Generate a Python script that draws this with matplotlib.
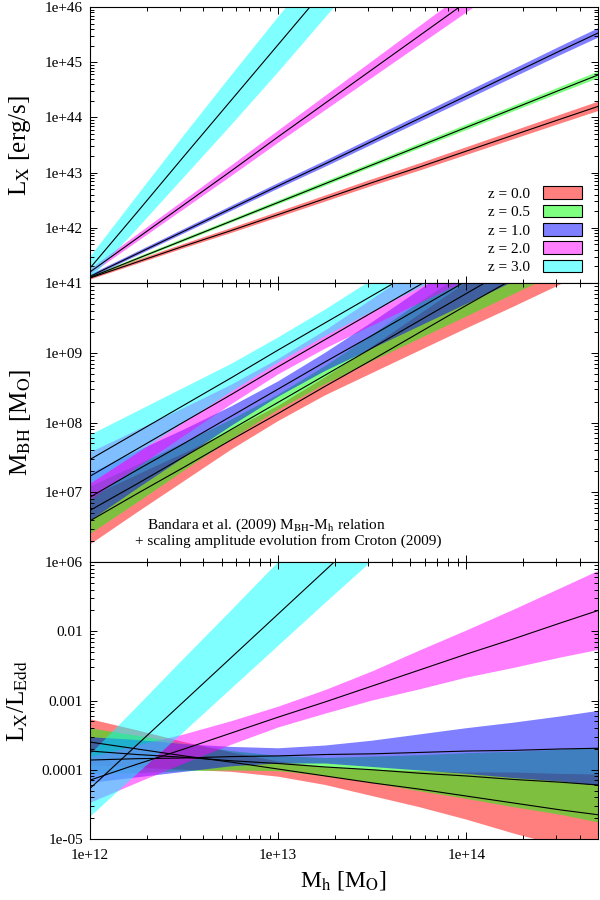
import matplotlib
matplotlib.use('Agg')
import numpy as np
import matplotlib.pyplot as plt
from matplotlib.patches import Patch
from matplotlib.ticker import LogLocator, FuncFormatter, NullFormatter

plt.rcParams['font.family'] = ['Liberation Serif', 'DejaVu Serif']
plt.rcParams['mathtext.fontset'] = 'stix'

# ---------------- data (log10 values) ----------------
log_mh = [12.0, 12.25, 12.5, 12.75, 13.0, 13.25, 13.5, 13.75, 14.0, 14.25, 14.5, 14.7]

z_labels = ['z = 0.0', 'z = 0.5', 'z = 1.0', 'z = 2.0', 'z = 3.0']
band_colors = ['#ff0000', '#00ff00', '#0000ff', '#ff00ff', '#00ffff']

# Panel 1: log Lx [erg/s]  (centre lines and half widths)
lx_red     = [41.09, 41.38, 41.67, 41.95, 42.24, 42.53, 42.82, 43.10, 43.39, 43.68, 43.97, 44.20]
lx_green   = [41.10, 41.44, 41.78, 42.12, 42.46, 42.80, 43.14, 43.48, 43.82, 44.16, 44.50, 44.77]
lx_blue    = [41.12, 41.53, 41.94, 42.35, 42.76, 43.16, 43.57, 43.98, 44.39, 44.80, 45.21, 45.53]
lx_magenta = [41.20, 41.81, 42.42, 43.03, 43.65, 44.26, 44.87, 45.48, 46.09, 46.70, 47.31, 47.80]
lx_cyan    = [41.27, 42.28, 43.30, 44.31, 45.32, 46.33, 47.35, 48.36, 49.37, 50.38, 51.40, 52.21]

lx_w_red     = [0.03, 0.035, 0.04, 0.045, 0.05, 0.055, 0.06, 0.065, 0.07, 0.075, 0.08, 0.085]
lx_w_green   = [0.02, 0.025, 0.03, 0.03, 0.035, 0.04, 0.04, 0.045, 0.05, 0.05, 0.055, 0.06]
lx_w_blue    = [0.03, 0.035, 0.04, 0.045, 0.05, 0.055, 0.06, 0.065, 0.07, 0.075, 0.08, 0.085]
lx_w_magenta = [0.05, 0.065, 0.08, 0.095, 0.11, 0.13, 0.15, 0.17, 0.19, 0.21, 0.23, 0.25]
lx_w_cyan    = [0.20, 0.30, 0.38, 0.45, 0.50, 0.52, 0.55, 0.58, 0.60, 0.62, 0.64, 0.66]

# Panel 2: log MBH [Msun]
mbh_red     = [6.59, 6.98, 7.36, 7.75, 8.13, 8.52, 8.90, 9.29, 9.68, 10.06, 10.45, 10.76]
mbh_green   = [6.74, 7.12, 7.51, 7.90, 8.29, 8.68, 9.07, 9.46, 9.85, 10.24, 10.63, 10.94]
mbh_blue    = [6.93, 7.32, 7.70, 8.09, 8.48, 8.87, 9.25, 9.64, 10.03, 10.42, 10.81, 11.12]
mbh_magenta = [7.23, 7.62, 8.01, 8.40, 8.80, 9.19, 9.58, 9.97, 10.36, 10.76, 11.15, 11.46]
mbh_cyan    = [7.47, 7.86, 8.25, 8.64, 9.04, 9.43, 9.82, 10.21, 10.61, 11.00, 11.39, 11.70]

mbh_w_cyan  = [0.35, 0.30, 0.25, 0.20, 0.18, 0.19, 0.23, 0.28, 0.34, 0.40, 0.46, 0.51]
mbh_w_other = [0.34, 0.27, 0.20, 0.14, 0.11, 0.13, 0.19, 0.26, 0.33, 0.40, 0.47, 0.53]

# Panel 3: log Lx/LEdd
edd_red     = [-3.60, -3.70, -3.80, -3.89, -3.99, -4.09, -4.19, -4.28, -4.38, -4.48, -4.58, -4.65]
edd_green   = [-3.73, -3.78, -3.82, -3.87, -3.91, -3.96, -4.00, -4.05, -4.09, -4.14, -4.18, -4.22]
edd_blue    = [-3.86, -3.84, -3.83, -3.81, -3.80, -3.78, -3.77, -3.75, -3.73, -3.72, -3.70, -3.69]
edd_magenta = [-4.15, -3.92, -3.70, -3.47, -3.24, -3.02, -2.79, -2.56, -2.33, -2.11, -1.88, -1.70]
edd_cyan    = [-4.27, -3.64, -3.01, -2.38, -1.75, -1.12, -0.49, 0.14, 0.77, 1.40, 2.03, 2.53]

edd_w_red     = [0.33, 0.27, 0.20, 0.14, 0.11, 0.13, 0.19, 0.26, 0.34, 0.44, 0.52, 0.58]
edd_w_other   = [0.33, 0.27, 0.20, 0.14, 0.11, 0.13, 0.19, 0.26, 0.33, 0.40, 0.47, 0.54]
edd_w_magenta = [0.33, 0.27, 0.21, 0.17, 0.15, 0.17, 0.21, 0.28, 0.34, 0.42, 0.50, 0.57]
edd_cyan_hi   = [-3.78, -3.09, -2.39, -1.70, -1.00, -0.31, 0.39, 1.08, 1.78, 2.48, 3.17, 3.73]
edd_cyan_lo   = [-4.68, -4.06, -3.45, -2.83, -2.21, -1.59, -0.98, -0.36, 0.26, 0.88, 1.50, 1.99]

# ---------------- figure ----------------
mh = 10 ** np.array(log_mh)
fig = plt.figure(figsize=(6, 9), dpi=100)
L, W = 90 / 600, 508 / 600
ax1 = fig.add_axes([L, 1 - 283 / 900, W, 276 / 900])
ax2 = fig.add_axes([L, 1 - 562 / 900, W, 279 / 900], sharex=ax1)
ax3 = fig.add_axes([L, 1 - 839 / 900, W, 277 / 900], sharex=ax1)


def band(ax, lo, hi, color):
    ax.fill_between(mh, 10 ** np.array(lo), 10 ** np.array(hi), facecolor=color,
                    alpha=0.5, edgecolor='none', linewidth=0)


def sym(c, w):
    c = np.array(c); w = np.array(w)
    return c - w, c + w

# panel 1
p1 = [(lx_red, lx_w_red), (lx_green, lx_w_green), (lx_blue, lx_w_blue),
      (lx_magenta, lx_w_magenta), (lx_cyan, lx_w_cyan)]
for (c, w), col in zip(p1, band_colors):
    lo, hi = sym(c, w)
    band(ax1, lo, hi, col)
for c, w in p1:
    ax1.plot(mh, 10 ** np.array(c), color='black', lw=0.8)

# panel 2
p2 = [(mbh_red, mbh_w_other), (mbh_green, mbh_w_other), (mbh_blue, mbh_w_other),
      (mbh_magenta, mbh_w_other), (mbh_cyan, mbh_w_cyan)]
for (c, w), col in zip(p2, band_colors):
    lo, hi = sym(c, w)
    band(ax2, lo, hi, col)
for c, w in p2:
    ax2.plot(mh, 10 ** np.array(c), color='black', lw=0.8)

# panel 3
p3_sym = [(edd_red, edd_w_red), (edd_green, edd_w_other), (edd_blue, edd_w_other),
          (edd_magenta, edd_w_magenta)]
for (c, w), col in zip(p3_sym, band_colors[:4]):
    lo, hi = sym(c, w)
    band(ax3, lo, hi, col)
band(ax3, edd_cyan_lo, edd_cyan_hi, band_colors[4])
for c in [edd_red, edd_green, edd_blue, edd_magenta, edd_cyan]:
    ax3.plot(mh, 10 ** np.array(c), color='black', lw=0.8)

# axes styling
ax1.set_ylim(1e41, 1e46)
ax2.set_ylim(1e6, 1e10)
ax3.set_ylim(1e-5, 1e-1)
for ax in (ax1, ax2, ax3):
    ax.set_xscale('log')
    ax.set_yscale('log')
    ax.set_xlim(1e12, 5e14)
    ax.xaxis.set_major_locator(LogLocator(base=10, numticks=10))
    ax.xaxis.set_minor_locator(LogLocator(base=10, subs=np.arange(2, 10), numticks=20))
    ax.yaxis.set_major_locator(LogLocator(base=10, numticks=10))
    ax.yaxis.set_minor_locator(LogLocator(base=10, subs=np.arange(2, 10), numticks=20))
    ax.yaxis.set_minor_formatter(NullFormatter())
    ax.xaxis.set_minor_formatter(NullFormatter())
    ax.tick_params(which='both', direction='in', top=True, right=True, width=0.7,
                   labelsize=11, colors='black')
    ax.tick_params(which='major', length=4.8)
    ax.tick_params(which='minor', length=2.8)
    ax.tick_params(axis='y', pad=5)
    for s in ax.spines.values():
        s.set_linewidth(0.8)

ax1.yaxis.set_major_formatter(FuncFormatter(lambda v, p: f"{v:.0e}"))
ax2.yaxis.set_major_formatter(FuncFormatter(lambda v, p: '' if v > 5e9 else f"{v:.0e}"))
edd_tick_text = {1e-5: '1e-05', 1e-4: '0.0001', 1e-3: '0.001', 1e-2: '0.01'}


def edd_fmt(v, p):
    for k, t in edd_tick_text.items():
        if abs(v / k - 1) < 1e-6:
            return t
    return ''

ax3.yaxis.set_major_formatter(FuncFormatter(edd_fmt))
ax3.xaxis.set_major_formatter(FuncFormatter(lambda v, p: f"{v:.0e}"))
ax3.tick_params(axis='x', pad=7)
plt.setp(ax1.get_xticklabels(), visible=False)
plt.setp(ax2.get_xticklabels(), visible=False)

ax1.set_ylabel(r'L$_\mathrm{X}$ [erg/s]', fontsize=18)
ax2.set_ylabel(r'M$_\mathrm{BH}$ [M$_\mathrm{O}$]', fontsize=18)
ax3.set_ylabel(r'L$_\mathrm{X}$/L$_\mathrm{Edd}$', fontsize=18)
ax1.yaxis.set_label_coords(-0.112, 0.5)
ax2.yaxis.set_label_coords(-0.112, 0.5)
ax3.yaxis.set_label_coords(-0.118, 0.5)
ax3.set_xlabel(r'M$_\mathrm{h}$ [M$_\mathrm{O}$]', fontsize=17, labelpad=5)

handles = [Patch(facecolor=matplotlib.colors.to_rgba(c, 0.5), edgecolor='black', linewidth=0.8)
           for c in band_colors]
ax1.legend(handles, z_labels, loc='lower right', bbox_to_anchor=(0.975, 0.02),
           frameon=False, markerfirst=False, fontsize=11, handlelength=2.6,
           handleheight=0.9, labelspacing=0.25, borderaxespad=0, borderpad=0.2,
           handletextpad=0.8)

ax2.text(0.112, 0.133, r'Bandara et al. (2009) M$_\mathrm{BH}$-M$_\mathrm{h}$ relation',
         transform=ax2.transAxes, ha='left', va='center', fontsize=11)
ax2.text(0.089, 0.075, '+ scaling amplitude evolution from Croton (2009)',
         transform=ax2.transAxes, ha='left', va='center', fontsize=11)

fig.savefig('out.png', dpi=100)
